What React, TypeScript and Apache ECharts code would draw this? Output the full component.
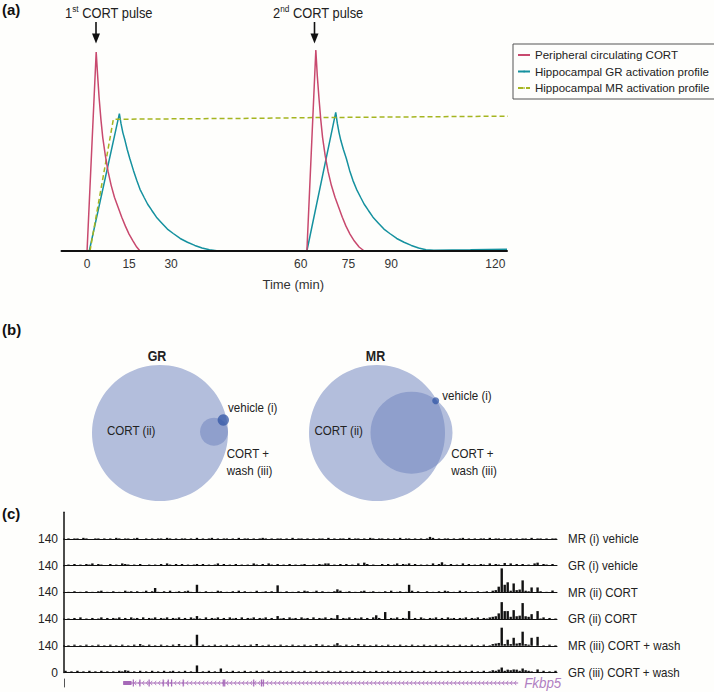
import React, { useEffect, useRef } from 'react';
import * as echarts from 'echarts';

const FONT = "'Liberation Sans', Arial, sans-serif";
const RED = '#c8496e';
const TEAL = '#15919f';
const OLIVE = '#a5b520';
const GENE = '#a669b8';
const TXT = '#222';
const NARROW = 0.89;

// ---------- Panel (a): schematic time course ----------
const timeTickPos = [0, 11.5, 23, 58.5, 71.6, 83.3, 111.8];
const timeTickLabels = ['0', '15', '30', '60', '75', '90', '120'];
const seriesNames = ['Peripheral circulating CORT', 'Hippocampal GR activation profile', 'Hippocampal MR activation profile'];
const cortLevels = [[-7, 0], [0, 0], [2.5, 100], [2.9, 88], [3.3, 77], [3.8, 66], [4.3, 57], [5, 48], [5.75, 40], [6.6, 33], [7.5, 27], [8.5, 22], [9.5, 17], [10.5, 12.5], [11.5, 8.5], [12.6, 5], [13.6, 2], [14.5, 0],
  [60.2, 0], [62.65, 101], [63.05, 88], [63.5, 77], [64, 66], [64.5, 57], [65.2, 48], [66, 40], [66.9, 33], [67.9, 27], [68.9, 22], [69.9, 17], [70.9, 12.5], [72, 8.5], [73.2, 5], [74.5, 2], [75.9, 0], [115, 0]];
const grActivation = [[-7, 0], [0.6, 0], [8.85, 69], [9.3, 64], [9.8, 59.5], [10.4, 55.5], [11, 51], [11.7, 46.5], [12.7, 40.5], [13.6, 35.5], [14.5, 31], [15.6, 27], [16.6, 23.5], [17.7, 20.5], [19, 17], [20.5, 14], [22, 11], [23.6, 8.8], [25.5, 6.3], [27.5, 4.4], [29.5, 2.8], [31.5, 1.5], [33.5, 0.6], [36, 0],
  [60.2, 0], [68.1, 69.7], [68.55, 64], [69, 59.5], [69.5, 55.5], [70.2, 51], [71, 46.5], [71.9, 40.5], [72.8, 35.5], [73.8, 31], [74.9, 27], [75.9, 23.5], [77, 20.5], [78.3, 17], [79.8, 14], [81.3, 11], [82.9, 8.8], [84.8, 6.3], [86.8, 4.4], [88.8, 2.8], [90.8, 1.5], [92.8, 0.6], [95, 0.4], [105, 0.6], [115, 0.9]];
const mrActivation = [[0.8, 0], [7.2, 66.2], [47.4, 66.7], [60, 67], [117.8, 67.8]];

// ---------- Panel (b): Venn diagrams (centre x, centre y, radius) ----------
const grCircles = [[0, 0, 68], [54, 1.3, 14], [63.3, 13, 5.7]];
const mrCircles = [[0, 0, 68], [34.5, 0.3, 41], [58.7, 32.3, 3.5]];
const grLabelText = ['GR', 'CORT (ii)', 'vehicle (i)', 'CORT +', 'wash (iii)'];
const grLabelPos = [[-3, 77], [-53, 2], [68, 25], [66.7, -21], [66.7, -37.7]];
const mrLabelText = ['MR', 'CORT (ii)', 'vehicle (i)', 'CORT +', 'wash (iii)'];
const mrLabelPos = [[-1.5, 77], [-62.5, 2], [65.2, 37], [74.2, -21], [74.2, -37.7]];

// ---------- Panel (c): ChIP-seq tracks (one digit per bin, x3 = read density) ----------
const trackNames = ['MR (i) vehicle', 'GR (i) vehicle', 'MR (ii) CORT', 'GR (ii) CORT', 'MR (iii) CORT + wash', 'GR (iii) CORT + wash'];
const mrVehicleNoise = '010110210011010 102101101200101 011021010110102 010120101101020 110101210101101 020110101011020 101102011010210 110101020110101 011201011010120 101011020110101 010110201101011';
const grVehicleNoise = '021302032413210 312043212031020 203142031302123 130212403120312 021320314203120 312023102132041 203130214023120 130312403241302 021403120312041 302132041320214 130312042132031';
const mrCortNoise = '010201020102301 020103120201302 010203012023102 102010320102030 201030120203102 010203201302010 203012010230120 102030120103020 020102032010302 010201203455343 645432303201020';
const grCortNoise = '010203010201302 021302031203021 302130213020312 103021302031203 021302130203120 312031203021302 130213021302031 203021302130203 102130203120213 021302134565454 656454302130201';
const mrWashNoise = '010201020102010 201020102031020 102010203010201 020102010201020 102030102010201 020102010302010 201020103020102 010201020102010 201020102010201 020102013454343 545432102010201';
const grWashNoise = '312031203120312 021320312031203 120312302130213 021302130213021 302130213021302 130213021302130 213021302130213 021302130213021 302130213021302 130213024354354 353243202130213';
const mrVehiclePeaks = [[122, 11]];
const grVehiclePeaks = [[63, 12], [87, 12], [100, 16], [126, 18], [147, 14], [158, 16]];
const mrCortPeaks = [[30, 23], [44, 40], [71, 37], [91, 16], [115, 40], [145, 30], [146, 126], [147, 40], [148, 53], [150, 47], [153, 63], [156, 26], [158, 26], [163, 10]];
const grCortPeaks = [[44, 16], [71, 16], [91, 21], [104, 20], [107, 37], [115, 42], [145, 30], [146, 89], [147, 42], [148, 42], [150, 47], [153, 84], [156, 26], [158, 42]];
const mrWashPeaks = [[44, 58], [91, 14], [146, 95], [148, 32], [150, 42], [153, 74], [156, 42], [158, 47]];
const grWashPeaks = [[20, 12], [44, 37], [52, 21], [146, 26], [150, 16], [153, 21], [158, 16]];
const trackNoise = [mrVehicleNoise, grVehicleNoise, mrCortNoise, grCortNoise, mrWashNoise, grWashNoise];
const trackPeaks = [mrVehiclePeaks, grVehiclePeaks, mrCortPeaks, grCortPeaks, mrWashPeaks, grWashPeaks];
const BINS = 165;

// Gene model (bins)
const geneStart = 19.8;
const geneEnd = 152;
const utrEnd = 22.6;
const geneExons = [23.2, 25.4, 28.5, 33.2, 34.9, 36, 39.9, 53.3, 53.8, 63.5, 66.1, 66.7];

function buildTrack(noise: string, peaks: number[][]) {
  const digits = noise.replace(/\s/g, '').split('').map((c) => Number(c) * 3);
  const vals = digits.slice(0, BINS);
  peaks.forEach(([b, v]) => { if (b < vals.length) vals[b] = Math.max(vals[b], v); });
  return vals.map((v, i) => [i + 0.5, v]);
}

// layout
const TRACK_LEFT = 64;
const TRACK_WIDTH = 493;
const TRACK_BASE0 = 539;
const TRACK_STEP = 26.7;

function buildOption() {
  const grids: any[] = [
    { left: 61.5, top: 42.05, width: 445.5, height: 208.95 },
    { left: 60, top: 333, width: 200, height: 200 },
    { left: 277, top: 333, width: 200, height: 200 },
  ];
  const xAxes: any[] = [
    {
      gridIndex: 0, type: 'value', min: -7, max: 115, z: 10,
      axisLine: { show: true, lineStyle: { color: '#111', width: 2 } },
      axisTick: { show: false }, splitLine: { show: false },
      axisLabel: {
        customValues: timeTickPos,
        formatter: (v: number) => {
          let best = 0;
          timeTickPos.forEach((p, i) => { if (Math.abs(p - v) < Math.abs(timeTickPos[best] - v)) best = i; });
          return timeTickLabels[best];
        },
        fontSize: 12, color: '#333', margin: 7, fontFamily: FONT,
      },
      name: 'Time (min)', nameLocation: 'middle', nameGap: 27,
      nameTextStyle: { fontSize: 13, color: '#333', fontFamily: FONT, padding: [0, 0, 0, 18] },
    },
    { gridIndex: 1, type: 'value', min: -100, max: 100, show: false },
    { gridIndex: 2, type: 'value', min: -100, max: 100, show: false },
  ];
  const yAxes: any[] = [
    { gridIndex: 0, type: 'value', min: 0, max: 105, show: false },
    { gridIndex: 1, type: 'value', min: -100, max: 100, show: false },
    { gridIndex: 2, type: 'value', min: -100, max: 100, show: false },
  ];
  const series: any[] = [
    { name: seriesNames[0], type: 'line', xAxisIndex: 0, yAxisIndex: 0, data: cortLevels, symbol: 'none', lineStyle: { color: RED, width: 1.5 }, itemStyle: { color: RED }, z: 4 },
    { name: seriesNames[1], type: 'line', xAxisIndex: 0, yAxisIndex: 0, data: grActivation, symbol: 'none', lineStyle: { color: TEAL, width: 1.5 }, itemStyle: { color: TEAL }, z: 3 },
    { name: seriesNames[2], type: 'line', xAxisIndex: 0, yAxisIndex: 0, data: mrActivation, symbol: 'none', clip: false, lineStyle: { color: OLIVE, width: 1.5, type: [5, 3] }, itemStyle: { color: OLIVE }, z: 3 },
  ];

  const circleFill = ['rgba(110,130,190,0.52)', 'rgba(110,130,190,0.52)', 'rgba(50,85,165,0.75)'];
  const vennCircles = (circles: number[][], gi: number) => ({
    type: 'custom', xAxisIndex: gi, yAxisIndex: gi, data: circles, silent: true,
    renderItem: (params: any, api: any) => {
      const c = api.coord([api.value(0), api.value(1)]);
      const r = api.size([api.value(2), 0])[0];
      return { type: 'circle', shape: { cx: c[0], cy: c[1], r }, style: { fill: circleFill[params.dataIndex] } };
    },
  });
  const vennLabels = (pos: number[][], text: string[], gi: number) => ({
    type: 'custom', xAxisIndex: gi, yAxisIndex: gi, data: pos, silent: true, z: 5,
    renderItem: (params: any, api: any) => {
      const c = api.coord([api.value(0), api.value(1)]);
      const title = params.dataIndex === 0;
      return {
        type: 'text', x: c[0], y: c[1], scaleX: NARROW,
        style: {
          text: text[params.dataIndex], fill: TXT, fontFamily: FONT, fontSize: title ? 14 : 13,
          fontWeight: title ? 'bold' : 'normal',
          align: title ? 'center' : 'left', textAlign: title ? 'center' : 'left',
          verticalAlign: 'middle', textVerticalAlign: 'middle',
        },
      };
    },
  });
  series.push(vennCircles(grCircles, 1), vennLabels(grLabelPos, grLabelText, 1));
  series.push(vennCircles(mrCircles, 2), vennLabels(mrLabelPos, mrLabelText, 2));

  const graphics: any[] = [];
  trackNames.forEach((name, k) => {
    const gi = 3 + k;
    const base = TRACK_BASE0 + k * TRACK_STEP;
    grids.push({ left: TRACK_LEFT, top: base - TRACK_STEP, width: TRACK_WIDTH, height: TRACK_STEP });
    xAxes.push({
      gridIndex: gi, type: 'value', min: 0, max: BINS,
      axisLine: { show: true, lineStyle: { color: '#111', width: 1 } },
      axisTick: { show: false }, axisLabel: { show: false }, splitLine: { show: false },
    });
    yAxes.push({
      gridIndex: gi, type: 'value', min: 0, max: 140, interval: 140,
      axisLine: { show: true, lineStyle: { color: '#111', width: 1.5 } },
      axisTick: { show: false }, splitLine: { show: false },
      axisLabel: {
        show: k > 0, showMinLabel: true, showMaxLabel: true,
        formatter: (v: number) => (v === 140 || k === 5 ? String(v) : ''),
        fontSize: 12, color: TXT, margin: 6, fontFamily: FONT,
      },
    });
    series.push({
      type: 'bar', xAxisIndex: gi, yAxisIndex: gi, data: buildTrack(trackNoise[k], trackPeaks[k]),
      barWidth: 2.4, silent: true, itemStyle: { color: '#111' },
    });
    graphics.push({
      type: 'text', x: 568, y: base, scaleX: NARROW,
      style: { text: name, fill: TXT, fontSize: 13, fontFamily: FONT, verticalAlign: 'middle', textVerticalAlign: 'middle' },
    });
  });

  // gene track
  const gg = 9;
  grids.push({ left: TRACK_LEFT, top: 679, width: TRACK_WIDTH, height: 8 });
  xAxes.push({ gridIndex: gg, type: 'value', min: 0, max: BINS, show: false });
  yAxes.push({
    gridIndex: gg, type: 'value', min: 0, max: 1,
    axisLine: { show: true, lineStyle: { color: '#555', width: 1 } },
    axisTick: { show: false }, axisLabel: { show: false }, splitLine: { show: false },
  });
  series.push({
    type: 'custom', xAxisIndex: gg, yAxisIndex: gg, data: [[geneStart, 0.5, geneEnd]], silent: true,
    renderItem: (params: any, api: any) => {
      const s = api.coord([api.value(0), api.value(1)]);
      const e = api.coord([api.value(2), api.value(1)]);
      const u = api.coord([utrEnd, api.value(1)]);
      const y = s[1];
      const children: any[] = [];
      children.push({ type: 'line', shape: { x1: s[0], y1: y, x2: e[0], y2: y }, style: { stroke: GENE, lineWidth: 1.2 } });
      children.push({ type: 'rect', shape: { x: s[0], y: y - 2, width: u[0] - s[0], height: 4 }, style: { fill: GENE } });
      geneExons.forEach((b) => {
        const p = api.coord([b, 0.5]);
        children.push({ type: 'rect', shape: { x: p[0] - 0.6, y: y - 3.5, width: 1.2, height: 7 }, style: { fill: GENE } });
      });
      for (let x = u[0] + 3; x < e[0] - 2; x += 4) {
        children.push({ type: 'polyline', shape: { points: [[x + 1.6, y - 2.2], [x, y], [x + 1.6, y + 2.2]] }, style: { stroke: GENE, fill: 'none', lineWidth: 0.8 } });
      }
      children.push({
        type: 'text', x: e[0] + 6, y, scaleX: NARROW,
        style: { text: 'Fkbp5', fill: '#b07fc2', fontSize: 15, fontStyle: 'italic', fontFamily: FONT, verticalAlign: 'middle', textVerticalAlign: 'middle' },
      });
      return { type: 'group', children };
    },
  });

  // annotations
  const panelLabel = (t: string, y: number) => ({ type: 'text', x: 2, y, style: { text: t, fill: '#111', fontSize: 15, fontWeight: 'bold', fontFamily: FONT, verticalAlign: 'middle', textVerticalAlign: 'middle' } });
  graphics.push(panelLabel('(a)', 9), panelLabel('(b)', 329), panelLabel('(c)', 513));
  const pulse = (x: number, textX: number, ord: string) => [
    {
      type: 'text', x: textX, y: 12, scaleX: 0.92,
      style: {
        text: `{n|${ord[0]}}{s|${ord.slice(1)}}{n| CORT pulse}`, fill: TXT, verticalAlign: 'middle', textVerticalAlign: 'middle',
        rich: { n: { fontSize: 14, fontFamily: FONT, fill: TXT, lineHeight: 16, verticalAlign: 'bottom' }, s: { fontSize: 9, fontFamily: FONT, fill: TXT, lineHeight: 10, verticalAlign: 'top' } },
      },
    },
    { type: 'line', shape: { x1: x, y1: 22, x2: x, y2: 36 }, style: { stroke: '#111', lineWidth: 1.6 } },
    { type: 'polygon', shape: { points: [[x - 4, 33.5], [x + 4, 33.5], [x, 43.5]] }, style: { fill: '#111' } },
  ];
  graphics.push(...pulse(96, 65, '1st'), ...pulse(314.5, 273, '2nd'));

  return {
    animation: false,
    backgroundColor: '#fefefc',
    textStyle: { fontFamily: FONT },
    grid: grids,
    xAxis: xAxes,
    yAxis: yAxes,
    legend: {
      data: seriesNames, orient: 'vertical', left: 513, top: 44,
      itemWidth: 12, itemHeight: 2, itemGap: 4.5, padding: [5, 8, 5, 4],
      borderColor: '#555', borderWidth: 1,
      textStyle: { fontSize: 11.5, color: TXT, fontFamily: FONT },
    },
    graphic: graphics,
    series,
  };
}

export default function App() {
  const ref = useRef<HTMLDivElement>(null);
  useEffect(() => {
    const chart = echarts.init(ref.current!, null, { renderer: 'svg' });
    chart.setOption(buildOption() as any);
    return () => chart.dispose();
  }, []);
  return <div ref={ref} style={{ position: 'absolute', left: 0, top: 0, width: 714, height: 692 }} />;
}
